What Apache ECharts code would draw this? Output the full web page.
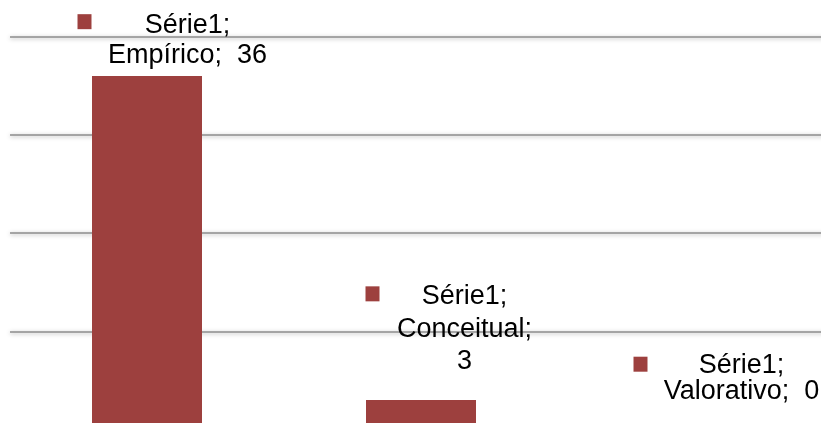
<!DOCTYPE html>
<html>
<head>
    <meta charset="utf-8">
    <title>Série1</title>
    <script src="https://cdn.jsdelivr.net/npm/echarts@6/dist/echarts.min.js"></script>
    <style>
        html, body { margin: 0; padding: 0; background: #fff; }
        #chart { width: 821px; height: 423px; }
    </style>
</head>
<body>
<div id="chart"></div>
<script>
    // 数据
    const seriesName = 'Série1';
    const categories = ['Empírico', 'Conceitual', 'Valorativo'];
    const values = [36, 3, 0];
    const yTicks = [0, 10, 20, 30, 40];

    // 标签排版 (位置/样式)
    const labelOffsets = [[25, -5], [28, -22], [31, -25]];
    const labelLineHeights = [30.5, 32.5, 25.7];
    const labelBreakValue = [false, true, false];
    // 图例方块相对柱顶的偏移
    const keyOffsets = [[-62.5, -54.3], [-48.5, -106.2], [-54.5, -65.3]];

    const barColor = '#9d403e';

    function makeLabel(i) {
        const lh = labelLineHeights[i];
        const lines = ['{g|}{t|' + seriesName + ';}'];
        if (labelBreakValue[i]) {
            lines.push('{g|}{t|' + categories[i] + ';}');
            lines.push('{g|}{t|' + values[i] + '}');
        } else {
            lines.push('{g|}{t|' + categories[i] + ';  ' + values[i] + '}');
        }
        return {
            show: true,
            position: 'top',
            distance: 0,
            offset: labelOffsets[i],
            lineHeight: lh,
            formatter: lines.join('\n'),
            rich: {
                g: { width: 31, align: 'left', lineHeight: lh },
                t: {
                    align: 'center',
                    fontFamily: 'Liberation Sans',
                    fontSize: 27,
                    color: '#000',
                    lineHeight: lh
                }
            }
        };
    }

    const chart = echarts.init(document.getElementById('chart'));

    const option = {
        animation: false,
        grid: {
            left: 10,
            top: 36.7,
            width: 822,
            height: 392.8,
            outerBoundsMode: 'none'
        },
        xAxis: {
            type: 'category',
            data: categories,
            axisLine: { show: false },
            axisTick: { show: false },
            axisLabel: { show: false }
        },
        yAxis: {
            type: 'value',
            min: yTicks[0],
            max: yTicks[yTicks.length - 1],
            interval: yTicks[1] - yTicks[0],
            axisLine: { show: false },
            axisTick: { show: false },
            axisLabel: { show: false },
            splitLine: {
                lineStyle: {
                    color: '#8c8c8c',
                    width: 1.5,
                    shadowColor: 'rgba(0,0,0,0.35)',
                    shadowBlur: 4,
                    shadowOffsetY: 1
                }
            }
        },
        series: [
            {
                name: seriesName,
                type: 'bar',
                barWidth: 110,
                itemStyle: { color: barColor },
                data: values.map((v, i) => ({ value: v, label: makeLabel(i) }))
            },
            {
                // 数据标签里的图例方块
                name: seriesName,
                type: 'scatter',
                symbol: 'rect',
                symbolSize: [14, 15],
                itemStyle: { color: barColor, opacity: 1 },
                silent: true,
                z: 5,
                data: values.map((v, i) => ({ value: v, symbolOffset: keyOffsets[i] }))
            }
        ]
    };

    chart.setOption(option);
</script>
</body>
</html>
